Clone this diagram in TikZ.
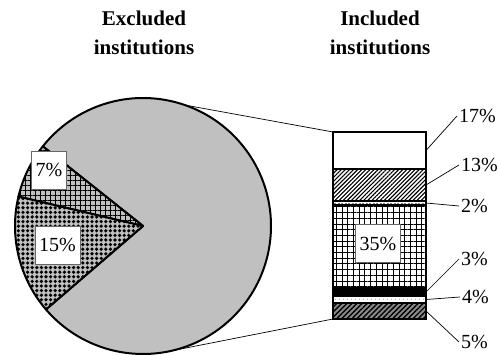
\documentclass[tikz,border=0pt]{standalone}
\usepackage{fontspec}
\setmainfont{Liberation Serif}
\usetikzlibrary{patterns.meta,calc}
\definecolor{piegrey}{HTML}{C0C0C0}
\definecolor{darkgrey}{HTML}{8C8C8C}
\begin{document}
\begin{tikzpicture}[x=1pt,y=1pt,
  pct/.style={font=\fontsize{20}{24}\selectfont, inner sep=2pt, anchor=west},
  pbox/.style={font=\fontsize{20}{24}\selectfont, fill=white, draw=black!60, line width=0.6pt, inner xsep=4pt, minimum height=38pt},
  title/.style={font=\fontsize{21}{29}\selectfont\bfseries, align=center},
  slice/.style={draw=black, line width=2pt, line join=round},
  seg/.style={draw=black, line width=1.7pt},
  leader/.style={line width=0.7pt}]
\useasboundingbox (0,0) rectangle (501,355);
% titles
\node[title] (t1) at (144,322.5) {Excluded\\institutions};
\node[title] (t2) at (380,322.5) {Included\\institutions};
% pie
\coordinate (c) at (143,129);
\def\R{128}
\path[slice, fill=piegrey] (c) -- ++(220.7:\R) arc[start angle=220.7, end angle=501.5, radius=\R] -- cycle;
\path[slice, preaction={fill=piegrey}, pattern={Hatch[distance=5pt, line width=0.7pt]}, pattern color=black]
  (c) -- ++(141.5:\R) arc[start angle=141.5, end angle=166.7, radius=\R] -- cycle;
\path[slice, preaction={fill=piegrey}, pattern={Dots[distance=4.6pt, radius=1.8pt]}, pattern color=black]
  (c) -- ++(166.7:\R) arc[start angle=166.7, end angle=220.7, radius=\R] -- cycle;
% bar
\path[seg, fill=white] (333,186) rectangle (426,223);
\path[seg, preaction={fill=white}, pattern={Lines[angle=45, distance=2.9pt, line width=1.1pt]}, pattern color=black] (333,154) rectangle (426,186);
\path[seg, fill=white] (333,150) rectangle (426,154);
\draw[gray, dash pattern=on 2pt off 1.5pt, line width=0.8pt] (334,152) -- (425,152);
\path[seg, preaction={fill=white}, pattern={Hatch[distance=5.7pt, line width=0.7pt]}, pattern color=black] (333,67) rectangle (426,150);
\path[seg, fill=black] (333,59) rectangle (426,67);
\path[seg, preaction={fill=white}, pattern={Dots[distance=4pt, radius=0.6pt]}, pattern color=darkgrey] (333,52) rectangle (426,59);
\path[seg, preaction={fill=darkgrey}, pattern={Lines[angle=45, distance=3.6pt, line width=1.4pt]}, pattern color=black] (333,36) rectangle (426,52);
% coordinates on the bar
\coordinate (bTL) at (333,223);
\coordinate (bBL) at (333,36);
\coordinate (b17) at (426,204.5);
\coordinate (b13) at (426,170);
\coordinate (b2) at (426,152);
\coordinate (b3) at (426,63);
\coordinate (b4) at (426,55.5);
\coordinate (b5) at (426,44);
% connectors pie -> bar
\coordinate (ct) at ($(c)+(70.9:\R)$);
\coordinate (cb) at ($(c)+(-80.1:\R)$);
\draw[leader] (ct) -- (bTL);
\draw[leader] (cb) -- (bBL);
% boxed labels
\node[pbox] (p7) at (49,185) {7\%};
\node[pbox] (p15) at (57.5,110) {15\%};
\node[pbox] (p35) at (378,111.5) {35\%};
% right labels
\node[pct] (l17) at (457,239) {17\%};
\node[pct] (l13) at (459,190) {13\%};
\node[pct] (l2) at (459,149) {2\%};
\node[pct] (l3) at (459,96) {3\%};
\node[pct] (l4) at (460,58) {4\%};
\node[pct] (l5) at (459,13) {5\%};
\draw[leader] (b17) -- (l17.west);
\draw[leader] (b13) -- (l13.west);
\draw[leader] (b2) -- (l2.west);
\draw[leader] (b3) -- (l3.west);
\draw[leader] (b4) -- (l4.west);
\draw[leader] (b5) -- (l5.west);
\end{tikzpicture}
\end{document}
